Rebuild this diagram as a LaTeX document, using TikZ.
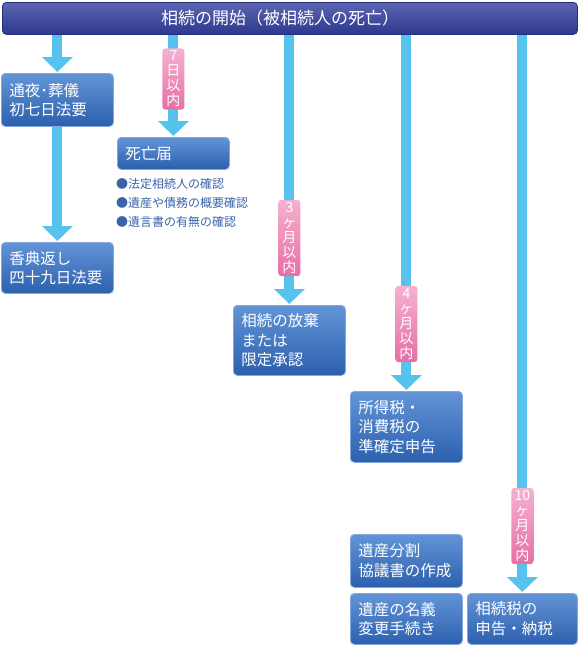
\documentclass[tikz,border=0pt]{standalone}
\usepackage{fontspec}
\setmainfont{Noto Sans CJK JP}
\usepackage{xcolor}
\usetikzlibrary{arrows.meta}
\usetikzlibrary{positioning}

\definecolor{flowblue}{HTML}{56C3EF}
\definecolor{bartop}{HTML}{5D65B1}
\definecolor{barbottom}{HTML}{2C388F}
\definecolor{baredge}{HTML}{24307F}
\definecolor{boxtop}{HTML}{6294D6}
\definecolor{boxbottom}{HTML}{2C60AE}
\definecolor{boxedge}{HTML}{85A8DC}
\definecolor{pinktop}{HTML}{F4B2CF}
\definecolor{pinkbottom}{HTML}{E76FA5}
\definecolor{notetext}{HTML}{3A63A8}

\begin{document}
\begin{tikzpicture}[x=1pt,y=-1pt]
% 1 = 1px of the reference
    \def\BOXTW{96pt} %text width of boxes
    \def\BOXSEP{8pt} %
    \def\LINESKIP{19.5pt} %

    \tikzset{
      titlebar/.style={draw=baredge, line width=0.8pt, rounded corners=4pt,
        top color=bartop, bottom color=barbottom, anchor=north west,
        minimum width=575pt, minimum height=32pt, inner sep=0pt},
      titletext/.style={text=white, font=\fontsize{17}{18}\selectfont},
      stepbox/.style={draw=boxedge, line width=0.8pt, rounded corners=4pt,
        top color=boxtop, bottom color=boxbottom, text=white,
        font=\fontsize{15.5}{\LINESKIP}\selectfont, align=left,
        text width=\BOXTW, inner xsep=\BOXSEP, inner ysep=3pt,
        anchor=north west},
      period/.style={rounded corners=3pt, top color=pinktop,
        bottom color=pinkbottom, draw=none, text=white, align=center,
        font=\fontsize{14}{15}\selectfont, minimum width=22pt,
        inner xsep=0pt, inner ysep=2.5pt},
      flow/.style={-{Triangle[width=30pt,length=15pt]}, line width=10pt,
        color=flowblue, shorten >=1pt},
      notes/.style={text=notetext, font=\fontsize{12}{19}\selectfont,
        align=left, inner sep=0pt, anchor=north west},
    }

    \useasboundingbox (0,0) rectangle (579,646);

    % TITLE BAR
    \node[titlebar] (start) at (2,2) {};
    \node[titletext] (title) at (280,18) {相続の開始（被相続人の死亡）};

    % BOXES
    \node[stepbox, minimum height=53pt] (tsuya) at (1,73) {通夜･葬儀\\初七日法要};
    \node[stepbox, minimum height=51pt] (koden) at (1,242) {香典返し\\四十九日法要};
    \node[stepbox, minimum height=32pt] (todoke) at (117,137) {死亡届};
    \node[stepbox, minimum height=70pt] (houki) at (233,305) {相続の放棄\\または\\限定承認};
    \node[stepbox, minimum height=71pt] (shotoku) at (350,391) {所得税・\\消費税の\\準確定申告};
    \node[stepbox, minimum height=53pt] (bunkatsu) at (350,534) {遺産分割\\協議書の作成};
    \node[stepbox, minimum height=51pt] (meigi) at (350,593) {遺産の名義\\変更手続き};
    \node[stepbox, minimum height=51pt, text width=94pt] (souzoku) at (467,593) {相続税の\\申告・納税};

    % NOTES UNDER DEATH CERTIFICATE
    \node[notes] (checks) at (116,178)
        {●法定相続人の確認\\●遺産や債務の概要確認\\●遺言書の有無の確認};

    % ARROWS
    \draw[flow] (start.south -| tsuya.north) -- (tsuya.north);
    \draw[flow] (tsuya.south) -- (koden.north);
    \draw[flow] (start.south -| todoke.north) -- (todoke.north);
    \draw[flow] (start.south -| houki.north) -- (houki.north);
    \draw[flow] (start.south -| shotoku.north) -- (shotoku.north);
    \draw[flow] (start.south -| souzoku.north) -- (souzoku.north);

    % PERIOD LABELS ON THE ARROWS
    \node[period] (days7) at (todoke.north |- 0,79) {7\\日\\以\\内};
    \node[period] (months3) at (houki.north |- 0,238) {3\\ヶ\\月\\以\\内};
    \node[period] (months4) at (shotoku.north |- 0,324) {4\\ヶ\\月\\以\\内};
    \node[period] (months10) at (souzoku.north |- 0,526) {10\\ヶ\\月\\以\\内};

\end{tikzpicture}
\end{document}
